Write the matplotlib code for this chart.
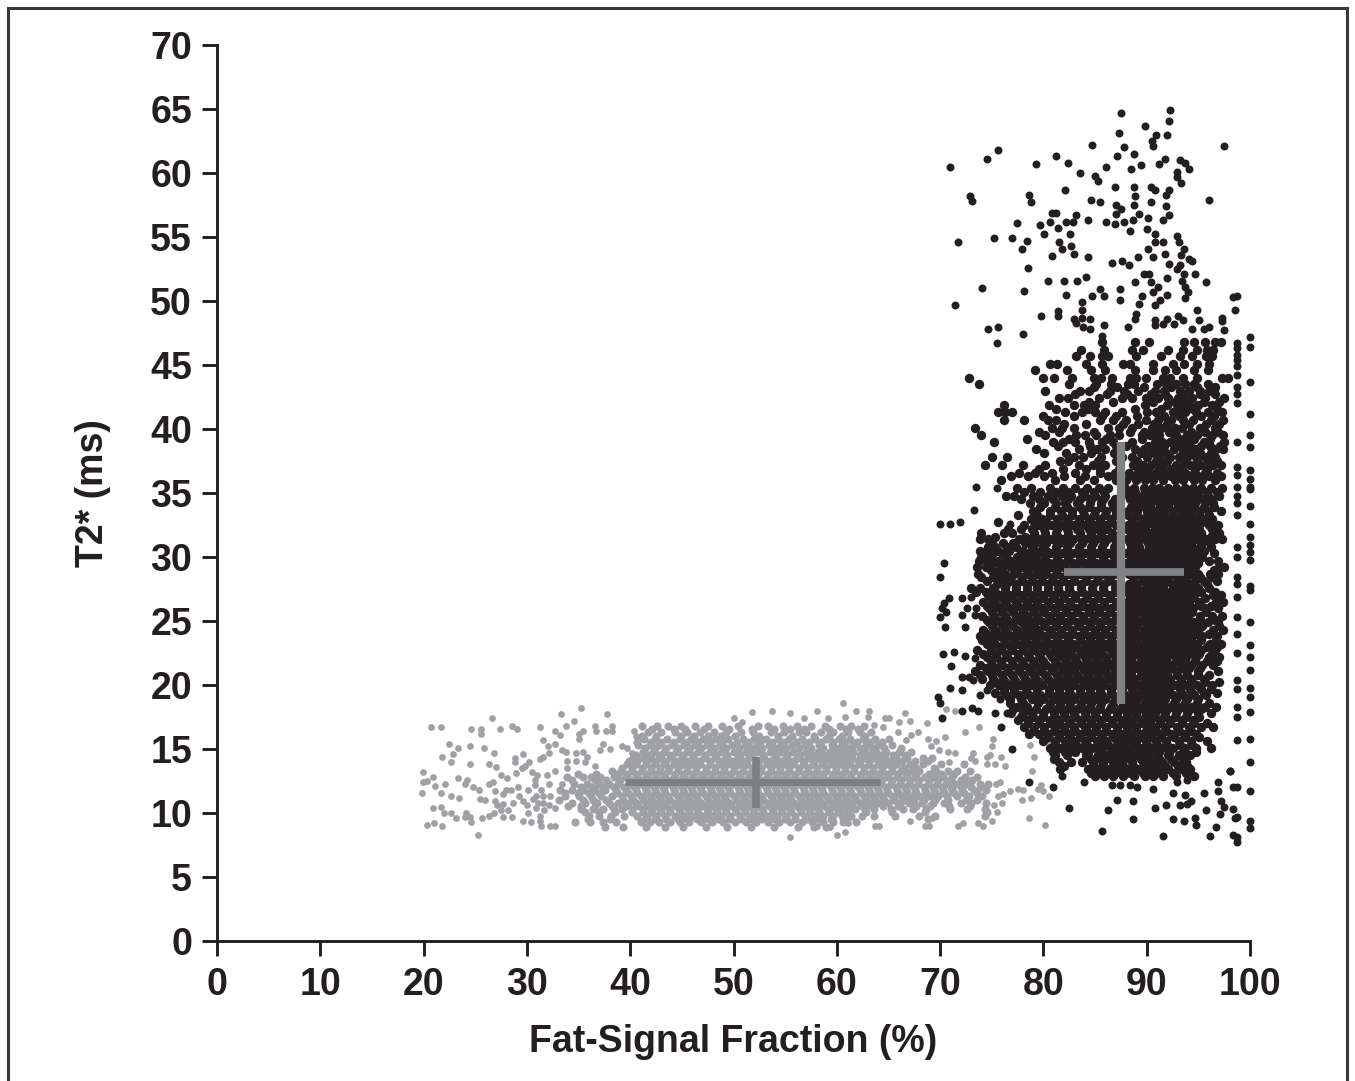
import matplotlib
matplotlib.use("Agg")
import matplotlib.pyplot as plt
from matplotlib.lines import Line2D

x_ticks = [0, 10, 20, 30, 40, 50, 60, 70, 80, 90, 100]
y_ticks = list(range(0, 71, 5))
x_title = "Fat-Signal Fraction (%)"
y_title = "T2* (ms)"

# cross markers (mean +/- sd)
gray_cross_x = [39.5, 64.2]
gray_cross_y = [10.4, 14.4]
gray_mean = (52.2, 12.4)
black_cross_x = [82.0, 93.6]
black_cross_y = [18.5, 39.0]
black_mean = (87.5, 28.8)

# individual black points read from the sparse outskirts
black_x = [87.5,92.3,92.2,89.8,87.3,92.0,90.9,90.5,90.6,97.5,84.7,87.8,75.6,74.5,71.0,81.2,79.3,82.4,83.5,86.1,87.1,88.8,89.4,88.5,91.2,91.8,93.2,93.7,94.1,92.9,92.9,93.3,85.0,85.3,86.9,88.8,90.4,90.8,92.2,91.9,82.1,72.9,73.1,78.6,78.8,84.6,85.5,88.9,88.8,90.4,96.0,91.9,87.0,87.5,87.0,89.3,90.1,92.2,91.6,80.8,81.2,83.2,82.2,82.9,84.3,86.1,86.9,87.8,88.7,80.6,77.4,79.7,81.4,80.1,82.6,88.4,90.0,90.8,92.9,71.7,75.2,77.0,78.4,77.9,81.5,82.7,81.8,83.0,80.8,84.3,90.8,91.6,93.1,90.1,91.8,93.6,93.3,90.6,89.2,94.1,94.4,87.6,88.3,86.6,92.2,93.2,92.9,78.5,89.7,90.2,93.6,94.7,84.1,83.3,82.0,80.4,92.0,88.9,90.4,93.4,95.7,74.1,78.1,85.5,85.9,87.4,84.7,82.2,91.1,90.6,93.7,94.0,92.0,98.7,98.4,71.4,87.4,89.5,89.3,91.3,90.8,93.7,83.7,83.7,81.4,81.4,98.5,94.9,79.8,89.0,88.9,83.0,83.7,84.5,83.2,83.8,84.5,85.9,88.2,90.8,90.8,92.0,91.6,92.6,93.0,93.5,95.1,97.3,97.3,96.0,95.5,94.4,97.5,74.6,75.6,75.5,78.0,85.7,
 100,100,100,100,100,100,100,100,100,100,100,100,100,100,100,100,100,100,100,100,100,100,100,100,100,100,100,100,100,100,
 98.7,98.7,98.7,98.7,98.7,98.7,98.7,98.7,98.7,98.7,98.7,98.7,98.7,98.7,98.7,98.7,98.7,98.7,98.7,98.7,98.7,98.7,98.7,98.7,98.7,98.7,98.7,98.7,98.7,98.7,98.7,98.7,98.4,98.7,98.1,
 85.7,91.6,96.1,96.7,82.5,86.3,87.1,88.7,88.7,90.8,91.9,92.5,93.6,94.7,94.8,95.7,97.1,98.5,98.4,97.2,97.5,93.2,93.7,94.3,93.9,95.5,96.9,96.9,98.4,98.1,92.5,90.6,92.9,93.9,83.9,86.6,87.4,88.4,89.1,81.8,78.6,80.9,77.0,75.9,70.2,
 70.0,71.0,71.9,70.4,70.0,73.3,75.5,73.5,76.8,70.4,70.9,70.2,70.0,70.6,70.5,72.4,72.1,72.1,73.4,73.5,73.0,72.6,70.3,71.3,72.4,73.4,71.1,69.8,70.0,71.0,72.1,73.2,72.1,72.8,72.1,73.1,73.7,75.3,76.5,73.9,75.8,76.4,74.5]
black_y = [64.7,64.9,64.1,63.7,63.1,63.0,63.0,62.5,62.1,62.1,62.2,62.0,61.8,61.1,60.5,61.3,60.7,60.8,60.0,60.5,61.3,61.5,60.6,60.3,60.7,61.1,61.0,60.8,60.3,60.1,59.7,59.2,59.8,59.4,58.9,58.9,58.9,58.7,58.7,58.3,58.7,58.2,57.8,58.3,57.7,57.9,57.7,58.2,57.5,57.7,57.9,57.4,57.5,57.2,56.8,56.8,56.5,56.7,56.3,56.9,56.9,56.7,56.2,56.2,56.3,56.2,56.0,56.2,56.3,56.2,56.1,55.9,55.7,55.2,55.2,55.5,55.6,55.2,55.1,54.6,54.9,54.9,54.7,54.1,54.6,54.3,54.1,53.7,53.5,53.4,54.6,54.6,54.6,54.1,53.7,54.1,53.6,53.4,53.4,53.3,53.1,53.1,52.8,53.0,52.9,52.8,52.5,52.6,52.1,52.1,52.1,52.1,51.9,51.6,51.6,51.6,51.8,51.5,51.5,51.6,51.5,51.0,50.8,50.9,50.4,50.9,50.4,50.5,51.1,50.7,51.1,50.7,50.5,50.4,50.3,49.7,50.1,50.4,49.8,50.1,49.7,50.2,49.9,49.3,49.2,48.8,49.3,49.3,48.8,49.0,48.6,48.6,48.7,48.6,48.3,48.0,47.8,48.1,48.0,48.5,48.1,48.6,48.2,48.2,48.8,48.5,48.5,48.7,48.4,48.0,47.8,47.8,47.7,47.8,48.0,46.7,47.4,47.3,
 35.3,34.0,32.6,31.6,30.9,30.4,29.8,27.7,27.4,24.9,23.1,22.2,21.2,19.8,19.1,17.9,15.8,14.0,11.7,9.4,8.8,47.2,46.4,43.7,41.2,39.5,38.6,36.8,36.1,35.5,
 46.7,46.3,45.8,45.4,44.9,44.2,43.3,42.7,42.0,39.0,37.0,36.4,35.5,34.8,34.2,33.3,30.8,30.0,28.4,27.9,26.9,25.3,24.0,22.5,20.4,19.7,18.3,17.5,15.7,12.0,9.7,7.7,8.3,8.1,13.3,
 8.6,8.2,8.2,8.9,10.4,10.2,11.0,10.9,9.5,10.4,10.6,9.5,9.4,9.6,9.1,10.2,9.9,9.6,10.3,10.9,10.5,10.6,11.4,10.9,10.7,11.6,12.4,11.7,12.0,13.3,11.6,11.9,12.4,12.6,12.4,12.2,12.2,12.2,12.0,12.9,12.4,12.0,15.0,16.7,17.4,
 32.6,32.6,32.7,29.5,28.4,33.7,35.4,35.5,32.6,26.4,26.8,26.0,25.3,25.7,24.5,24.5,26.8,25.5,25.5,26.0,26.9,26.0,22.4,22.6,22.3,22.1,21.5,19.1,18.6,19.8,19.6,20.4,20.6,20.6,18.0,18.2,18.0,17.8,17.8,19.2,18.9,19.3,19.6]
black_x = black_x[:len(black_y)]

# black points estimated level by level through the crowded part of the cloud
black_row_y = [46.8,46.2,45.7,45.1,44.6,44.0,43.5,43.0,42.4,41.9,41.3,40.7,40.1,39.5,39.0,38.4,37.8,37.2,36.6,35.4,34.8,34.2,33.6,33.0,32.5,31.9,31.4,30.8,30.3,29.7,29.2,28.7,28.1,27.6,27.0,26.5,26.0,25.4,24.9,24.3,23.8,23.2,22.7,22.2,21.6,21.1,20.5,20.0,19.4,18.9,18.3,17.8,17.3,16.7,16.2,15.6,15.1,14.5,14.0,13.4,12.9,
 43.3,42.7,42.1,41.6,41.0,40.4,39.8,39.2,38.7,38.1,37.5,36.9,36.3,36.0,35.1,34.5,33.9,33.3,32.7,32.2,31.6,31.1,30.5,30.0,29.5,29.0,28.4,27.9,27.3,26.8,26.2,25.7,25.1,24.6,24.0,23.5,23.0,22.4,21.9,21.3,20.8,20.2,19.7,19.2,18.6,18.1,17.5,17.0,16.4,15.9,15.3,14.8,14.2,13.7,13.1]
black_row_x = [
[85.7,88.9,90.2,93.6,94.6,95.6,96.6,97.2],
[83.6,85.9,88.6,89.6,92.1,93.5,94.9,95.8,96.4],
[83.2,84.5,85.7,86.3,89.0,91.4,93.2,94.4,95.7,96.3],
[80.6,81.3,84.1,85.7,87.7,88.4,90.6,92.5,93.6,94.9,96.0],
[79.2,82.3,84.6,86.0,88.9,90.6,91.8,92.8,94.6,95.9],
[72.8,80.0,81.0,82.8,84.9,85.6,86.6,88.4,89.0,89.9,91.6,92.3,93.5,94.9,97.3,97.9],
[73.8,82.5,85.1,86.5,88.2,88.8,91.0,91.9,92.8,93.7,94.6,95.9],
[80.2,83.5,84.4,86.4,87.8,89.2,90.8,91.7,93.2,94.1,95.2,96.0],
[81.5,82.4,85.4,87.6,88.6,89.9,91.1,92.1,93.0,94.4,95.6,97.5],
[76.2,80.5,83.0,83.9,85.0,89.8,92.0,93.4,94.2,95.0,96.3],
[75.6,76.3,77.0,82.1,83.7,85.0,86.0,87.6,90.0,90.9,92.5,93.7,94.8,95.9,97.3],
[76.2,78.1,80.4,81.2,85.5,86.7,88.0,89.9,91.1,92.4,93.5,94.5,96.2,97.4],
[73.4,80.8,81.8,83.0,86.3,87.3,88.6,90.5,91.4,92.7,93.4,95.2,96.6],
[74.0,80.2,83.2,84.0,85.1,86.4,87.3,89.5,90.3,91.2,92.8,93.9,94.9,96.3,97.4],
[75.2,80.9,81.9,83.1,84.4,85.7,86.7,88.6,90.8,91.5,92.3,93.0,94.0,95.5,97.5],
[79.3,83.4,85.2,86.0,88.9,89.7,90.4,91.2,92.6,93.6,94.7,96.7,97.4],
[75.0,76.5,83.0,83.8,85.6,87.6,88.6,90.0,91.2,92.3,93.1,93.9,94.8,95.6,96.6],
[74.3,76.0,78.0,80.2,83.4,84.8,86.0,88.7,89.6,90.4,91.6,92.8,94.2,95.2,96.4,97.2],
[77.6,79.2,80.8,83.1,85.5,86.9,88.3,89.7,90.9,91.8,92.9,93.7,94.6,95.6,96.8],
[77.4,78.8,80.6,81.9,83.1,84.2,85.4,86.3,87.9,88.8,89.7,90.5,91.2,92.1,92.8,93.7,94.5,95.3,96.2,97.3],
[76.4,77.2,79.0,80.4,81.8,82.7,84.0,85.0,86.0,88.3,89.2,90.1,91.0,91.8,92.6,93.3,94.2,95.0,95.9,97.0],
[78.7,80.1,81.2,82.1,83.3,84.5,85.6,86.6,88.7,89.6,90.4,91.3,92.2,93.0,93.8,94.7,95.6,96.4],
[79.0,80.6,81.7,82.8,83.8,85.0,86.1,87.0,88.2,89.1,90.0,90.8,91.7,92.5,93.4,94.2,95.1,95.9,97.2],
[78.8,79.9,81.3,82.3,83.4,84.4,85.5,86.5,88.6,89.5,90.4,91.3,92.1,93.0,93.8,94.6,95.5,96.3],
[78.1,79.5,80.7,81.8,82.9,83.9,85.0,86.0,87.0,88.2,89.0,89.9,90.7,91.6,92.4,93.3,94.1,94.9,96.0,96.9],
[74.0,76.2,77.0,79.1,80.2,81.2,82.4,83.5,84.6,85.6,86.6,88.5,89.4,90.3,91.1,92.0,92.8,93.6,94.4,95.3,96.4,97.0],
[73.9,74.6,77.6,78.6,79.6,80.8,81.9,82.9,84.0,85.1,86.2,88.1,88.9,89.8,90.6,91.5,92.3,93.2,94.0,94.8,95.7,96.6,97.3],
[74.6,75.3,76.5,77.3,78.9,80.0,81.2,82.3,83.4,84.6,85.7,86.8,88.5,89.3,90.2,91.0,91.9,92.7,93.6,94.4,95.2,96.2],
[74.3,75.1,76.0,77.8,78.6,79.5,80.6,81.8,82.9,84.0,85.2,86.3,88.0,88.9,89.7,90.6,91.4,92.3,93.1,94.0,94.8,96.5],
[73.8,74.6,75.6,76.9,77.7,78.9,80.0,81.2,82.4,83.5,84.7,85.8,86.9,88.4,89.3,90.1,91.0,91.8,92.7,93.5,94.4,96.0,96.9],
[73.6,74.4,76.1,76.9,77.9,78.9,79.7,80.7,81.9,83.0,84.2,85.3,86.4,88.8,89.7,90.5,91.4,92.2,93.1,93.9,94.7,97.0,97.5],
[73.7,75.3,76.3,77.2,78.4,79.4,80.3,81.3,82.4,83.5,84.6,85.8,86.8,88.3,89.2,90.0,90.9,91.7,92.6,93.4,94.2,95.0,96.1,96.9],
[74.5,75.8,76.8,77.8,78.9,79.9,80.8,81.9,83.0,84.1,85.2,86.3,88.7,89.6,90.4,91.3,92.1,93.0,93.8,94.7,95.5,96.8],
[73.0,73.9,75.1,76.3,77.3,78.4,79.4,80.4,81.4,82.5,83.6,84.7,85.8,86.9,88.2,89.1,89.9,90.8,91.6,92.5,93.3,94.2,95.0,96.0],
[74.6,75.7,76.8,77.8,78.9,79.9,80.9,82.0,83.1,84.2,85.3,86.4,88.6,89.5,90.3,91.2,92.0,92.9,93.7,94.6,96.4,97.2],
[74.2,75.2,76.3,77.3,78.4,79.4,80.4,81.5,82.6,83.7,84.8,85.9,87.0,88.1,89.0,89.8,90.7,91.5,92.4,93.2,94.1,95.1,96.7,97.4],
[74.7,75.8,76.8,77.9,78.9,79.9,81.0,82.1,83.2,84.3,85.4,86.5,88.5,89.4,90.2,91.1,91.9,92.8,93.6,94.5,95.6,96.9],
[74.1,75.2,76.3,77.3,78.4,79.4,80.5,81.6,82.7,83.8,84.9,86.0,87.0,88.0,88.9,89.8,90.6,91.5,92.3,93.2,94.0,95.2,96.3,97.3],
[74.7,75.8,76.8,77.9,78.9,80.0,81.1,82.2,83.3,84.4,85.5,86.5,88.4,89.3,90.2,91.0,91.9,92.7,93.6,94.6,95.9,96.9],
[74.2,75.3,76.3,77.4,78.4,79.5,80.6,81.7,82.8,83.9,85.0,86.0,87.0,87.9,88.8,89.7,90.5,91.4,92.2,93.1,94.0,95.0,96.4,97.4],
[73.9,74.8,75.8,76.9,77.9,79.0,80.1,81.2,82.3,83.4,84.5,85.5,86.5,88.3,89.2,90.1,90.9,91.8,92.6,93.5,94.4,95.4,96.8],
[74.5,75.3,76.4,77.4,78.5,79.6,80.7,81.8,82.9,84.0,85.0,86.0,87.0,87.9,88.7,89.6,90.4,91.3,92.1,93.0,93.9,94.9,96.1,97.2],
[73.6,74.9,75.9,77.0,78.0,79.1,80.2,81.3,82.4,83.5,84.5,85.5,86.5,88.2,89.1,90.0,90.8,91.7,92.5,93.4,94.3,95.3,96.6],
[74.5,75.4,76.5,77.5,78.6,79.7,80.8,81.9,83.0,84.0,85.0,86.0,87.0,87.8,88.6,89.5,90.3,91.2,92.0,92.9,93.8,94.8,96.0,97.0],
[73.9,75.0,76.0,77.1,78.1,79.2,80.3,81.4,82.5,83.5,84.5,85.5,86.5,88.1,89.0,89.9,90.7,91.6,92.4,93.3,94.3,95.4,96.4],
[73.4,74.6,75.5,76.6,77.6,78.7,79.8,80.9,82.0,83.0,84.0,85.0,86.0,87.0,87.8,88.5,89.4,90.2,91.1,91.9,92.8,93.8,95.0,96.9],
[74.1,75.1,76.1,77.2,78.2,79.3,80.4,81.5,82.5,83.5,84.5,85.5,86.5,88.0,88.9,89.8,90.6,91.5,92.3,93.3,94.3,95.5],
[74.8,75.7,76.7,77.7,78.8,79.9,81.0,82.0,83.0,84.0,85.0,86.0,87.0,88.4,89.3,90.1,91.0,91.9,92.8,93.8,94.9,96.3],
[75.3,76.2,77.2,78.3,79.4,80.5,81.5,82.5,83.5,84.5,85.5,86.5,87.6,88.8,89.6,90.5,91.4,92.3,93.3,94.4,95.5,96.8],
[76.8,77.8,78.9,80.0,81.0,82.0,83.0,84.0,85.0,86.0,87.0,88.2,89.1,90.0,90.9,91.8,92.8,93.9,95.0],
[77.4,78.4,80.5,81.5,82.5,83.5,84.5,85.5,86.5,87.6,88.6,89.5,90.4,91.3,92.3,93.3,94.4,95.6,96.7],
[76.9,78.0,78.9,80.0,81.0,82.0,83.0,84.0,85.0,86.1,87.1,88.1,89.0,89.9,90.8,91.8,92.8,93.9,95.0,96.2],
[77.5,78.5,79.6,80.6,81.5,82.5,83.5,84.6,85.6,86.6,87.6,88.6,89.5,90.3,91.3,92.3,93.4,94.5],
[78.1,79.1,80.1,81.1,82.0,83.0,84.0,85.1,86.1,87.1,88.1,89.0,90.0,90.8,91.8,92.9,94.1,95.3,96.4],
[78.6,79.6,80.5,81.5,82.6,83.6,84.5,85.6,86.6,87.6,88.6,89.5,90.3,91.3,92.4,93.6,94.8],
[80.0,81.1,82.1,83.0,84.0,85.2,86.1,87.1,88.0,89.0,89.9,90.9,91.9,93.1,94.3,95.8],
[80.6,81.6,82.7,83.7,84.7,85.7,86.7,87.7,88.5,89.5,90.4,91.4,92.5,93.7,94.8,96.2],
[81.1,82.3,84.1,85.3,86.2,87.2,88.1,89.1,90.0,91.0,92.1,93.1,94.2],
[81.5,82.7,83.7,84.8,85.8,86.7,87.6,88.6,89.6,90.4,91.5,92.6,93.8],
[81.6,84.3,85.3,86.3,87.2,88.2,89.2,90.1,91.0,92.1,93.3,94.2],
[85.0,85.9,86.7,87.7,88.8,89.8,90.6,91.6,92.8,94.6],
[84.9,87.1,89.7,92.4,94.9,96.6],
[83.1,86.2,88.1,90.4,91.8,93.6,95.2,96.6],
[84.4,86.7,90.6,92.7,93.8,95.5,97.0],
[81.2,84.3,88.9,91.4,92.9,94.5,96.8],
[80.0,83.0,85.7,87.0,89.1,91.7,93.1,95.3,96.5],
[82.0,84.1,87.7,89.2,90.7,92.0,94.1,95.7,97.0],
[79.6,81.5,84.9,88.4,89.7,91.0,92.2,94.3,95.6,96.9],
[78.4,82.5,86.1,89.5,91.0,92.6,93.5,94.6,96.1],
[81.4,84.5,87.0,88.0,90.1,91.7,93.2,94.2,95.3,96.1,97.1],
[80.1,82.2,84.6,86.8,89.4,90.7,91.9,93.5,94.4,95.2,96.2],
[81.6,82.4,85.3,87.0,89.1,90.9,92.0,93.6,94.9,95.9,96.8],
[79.6,81.9,84.1,85.5,87.3,89.2,90.1,91.2,92.4,93.4,94.7,95.8],
[76.9,78.5,80.1,82.0,84.0,86.3,88.7,89.4,90.4,91.4,92.4,93.3,94.2,95.0,96.0,97.2],
[75.9,81.1,83.5,84.9,87.0,88.0,89.0,89.8,90.6,91.6,92.7,93.5,94.6,95.4,96.6],
[78.1,79.7,81.2,82.4,83.7,84.9,85.9,88.0,88.9,89.8,90.7,91.5,92.4,93.1,94.1,95.0,95.8,96.8],
[77.8,79.6,80.9,82.4,83.5,84.6,85.8,86.9,88.4,89.4,90.2,91.1,92.0,92.9,93.6,94.5,95.4,96.2],
[79.7,81.1,82.3,83.5,84.4,85.6,86.7,88.5,89.3,90.3,91.3,92.1,93.0,93.8,94.6,95.5,96.5],
[77.5,79.4,80.6,81.8,82.8,83.9,84.9,86.0,87.0,88.2,89.1,90.0,90.8,91.7,92.5,93.4,94.2,95.1,96.0],
[75.6,79.1,80.3,81.4,82.4,83.4,84.5,85.5,86.5,88.6,89.4,90.3,91.1,92.0,92.8,93.7,94.5,95.4],
[76.6,77.8,78.9,80.1,81.3,82.3,83.3,84.4,85.3,86.2,88.1,89.0,89.7,90.9,91.7,92.6,93.4,94.2,95.1,96.3],
[75.3,78.2,79.2,80.3,81.4,82.4,83.4,84.5,85.6,86.6,88.5,89.3,90.2,91.0,91.9,92.7,93.5,94.4,95.3,96.2],
[75.0,76.1,77.1,78.2,79.2,80.3,81.5,82.6,83.7,84.8,85.9,87.0,88.4,89.2,90.1,90.9,91.8,92.6,93.5,94.3,95.4,96.1],
[73.9,75.6,76.7,78.0,79.2,80.3,81.2,82.4,83.5,84.6,85.7,86.8,88.5,89.3,90.1,91.0,91.8,92.7,93.5,94.4,95.5],
[74.0,74.9,76.4,77.4,78.3,79.2,80.2,81.3,82.4,83.5,84.6,85.8,86.8,88.5,89.4,90.2,91.0,91.9,92.7,93.6,94.5,95.4],
[75.1,76.3,77.3,78.3,79.4,80.5,81.7,82.9,84.0,85.1,86.2,87.0,88.0,88.9,89.8,90.7,91.5,92.4,93.3,94.1,95.0],
[74.9,75.7,77.4,78.4,79.3,80.2,81.2,82.3,83.4,84.6,85.7,86.8,88.3,89.2,90.0,90.9,91.8,92.6,93.4,94.3,96.5],
[74.0,75.1,76.0,76.9,77.9,78.9,79.9,80.9,81.9,83.0,84.1,85.3,86.4,88.7,89.5,90.4,91.2,92.1,92.9,93.8,95.2,96.3],
[75.5,76.4,77.3,78.4,79.4,80.4,81.4,82.5,83.6,84.8,85.9,86.9,88.3,89.1,90.0,90.8,91.7,92.5,93.4,94.4,95.8],
[73.5,74.4,75.3,76.3,77.3,78.4,79.4,80.4,81.5,82.6,83.7,84.8,85.9,87.0,88.0,88.9,89.8,90.6,91.5,92.3,93.2,94.1,95.3,96.6],
[74.9,76.0,77.0,78.0,79.0,80.0,81.0,82.0,83.1,84.2,85.3,86.4,88.4,89.3,90.1,91.0,91.8,92.7,93.5,94.4,95.6],
[74.5,75.5,76.5,77.5,78.5,79.5,80.5,81.6,82.7,83.8,84.9,85.9,87.0,88.0,88.9,89.7,90.6,91.4,92.3,93.1,94.0,95.3,96.2],
[75.0,76.0,77.1,78.0,79.1,80.1,81.1,82.2,83.3,84.4,85.4,86.4,88.3,89.2,90.0,90.9,91.7,92.6,93.4,94.4,95.7],
[74.5,75.5,76.5,77.6,78.6,79.6,80.7,81.7,82.8,83.9,85.0,86.0,87.0,87.9,88.8,89.6,90.5,91.3,92.2,93.0,93.9,95.2,96.6],
[75.0,76.1,77.1,78.2,79.1,80.2,81.2,82.3,83.4,84.5,85.5,86.5,88.3,89.1,90.0,90.8,91.7,92.5,93.4,94.4,95.4,97.0],
[74.5,75.6,76.6,77.7,78.7,79.7,80.8,81.8,82.9,83.9,85.0,86.0,87.0,87.8,88.7,89.5,90.4,91.2,92.1,92.9,93.8,94.8,96.0],
[74.1,75.1,76.2,77.2,78.2,79.3,80.3,81.3,82.4,83.5,84.5,85.5,86.5,88.2,89.0,89.9,90.7,91.6,92.4,93.3,94.3,95.3,96.7],
[74.9,75.8,76.9,78.0,78.9,80.0,81.0,82.1,83.2,84.3,85.3,86.3,87.0,87.7,88.6,89.4,90.3,91.1,92.0,92.8,93.7,94.6,95.8,96.8],
[74.2,75.4,76.4,77.5,78.5,79.6,80.6,81.6,82.7,83.7,84.7,85.7,86.7,88.1,89.0,89.8,90.7,91.5,92.4,93.2,94.1,95.1,96.3],
[74.9,75.9,77.0,77.9,79.0,80.0,81.1,82.2,83.2,84.2,85.2,86.2,87.0,87.7,88.5,89.4,90.2,91.1,91.9,92.8,93.7,94.7,95.8,96.8],
[74.4,75.4,76.5,77.5,78.6,79.6,80.7,81.8,82.8,83.8,84.8,85.8,86.8,88.1,88.9,89.7,90.6,91.5,92.3,93.2,94.1,95.2],
[73.9,75.0,76.0,77.0,78.0,79.1,80.2,81.3,82.3,83.3,84.3,85.3,86.3,87.1,87.9,88.5,89.4,90.2,91.1,92.0,92.9,93.9,95.0,96.0],
[75.3,76.3,77.3,78.5,79.6,80.7,81.8,82.8,83.8,84.8,85.8,86.8,88.1,88.8,89.7,90.6,91.4,92.3,93.3,94.4,95.6,97.0],
[76.2,77.2,78.3,79.4,80.5,81.5,82.5,83.5,84.5,85.5,86.5,87.6,88.6,89.5,90.4,91.3,92.2,93.2,94.2,95.3,96.2],
[76.4,77.6,78.6,79.7,80.7,81.7,82.7,83.7,84.7,85.7,86.7,87.9,88.8,89.7,90.6,91.5,92.5,93.5,94.6,95.7],
[76.8,78.0,79.5,80.6,81.6,82.6,83.6,84.6,85.6,86.7,87.8,88.9,89.8,90.7,91.6,92.6,93.7,94.9,96.0],
[77.1,78.3,79.3,80.3,81.3,82.3,83.3,84.3,85.4,86.4,87.4,88.3,89.3,90.1,91.1,92.0,93.0,94.2,95.3],
[77.8,79.0,80.0,81.1,82.1,83.1,84.1,85.1,86.1,87.1,88.1,89.0,89.8,90.7,91.7,92.7,93.8,95.1],
[78.5,79.6,80.6,81.5,82.6,83.6,84.6,85.6,86.6,87.6,88.5,89.4,90.3,91.3,92.3,93.4,94.6,95.8],
[79.0,80.1,81.0,82.1,83.1,84.2,85.1,86.1,87.1,88.1,89.0,89.9,90.9,91.9,93.1,94.3],
[80.4,81.5,82.5,83.5,84.6,85.7,86.7,87.6,88.5,89.4,90.4,91.4,92.6,93.7,95.1],
[81.1,82.2,83.2,84.2,85.4,86.3,87.3,88.2,89.0,90.0,91.0,92.0,93.2,94.4],
[80.9,82.1,83.1,84.3,85.5,86.5,87.4,88.3,89.3,90.2,91.2,92.2,93.5,94.8],
[81.0,84.6,85.6,86.5,87.4,88.4,89.4,90.2,91.2,92.4,93.5],
[82.0,84.9,85.8,86.8,87.7,88.7,89.9,90.8,91.8,93.0,93.9],
[84.6,85.6,86.5,87.5,88.4,89.6,90.5,91.3,92.5,93.8],
]

# individual gray points read from the sparse outskirts
gray_x = [20.7,21.7,24.6,25.55,25.55,26.6,27.4,28.6,29.0,31.3,22.5,23.3,24.5,25.8,26.8,22.8,21.8,22.7,24.5,26.3,27.0,28.8,28.8,29.6,30.2,29.5,29.8,28.9,19.9,20.9,19.9,20.3,22.1,21.1,19.8,21.7,23.3,24.2,24.0,24.8,25.4,26.3,26.7,27.5,28.1,22.7,23.4,25.5,25.9,26.9,27.7,28.0,28.5,29.1,20.9,21.7,22.0,22.7,23.1,24.1,24.0,24.5,24.55,25.7,26.3,26.8,20.3,21.0,21.8,25.3,26.9,27.1,27.7,27.5,28.2,28.7,27.7,28.6,29.2,29.6,30.0,30.1,30.1,29.6,30.4,
 30.5,31.0,31.9,32.7,30.8,30.8,32.1,33.4,30.9,31.4,31.6,32.2,30.6,31.1,31.6,32.1,30.9,31.7,32.7,31.3,31.3,31.4,32.2,32.7,31.6,32.0,32.1,31.6,31.3,32.7,32.7,33.2,33.3,34.6,33.8,35.2,35.0,35.0,35.4,33.4,33.8,33.9,33.9,34.8,35.4,34.8,35.8,35.6,36.6,36.6,36.7,37.8,38.2,37.7,38.2,37.4,37.1,38.0,39.2,39.7,40.2,40.6,40.4,
 51.8,53.7,55.5,58.1,60.6,61.9,63.1,60.8,63.0,56.8,59.1,50.0,50.8,64.7,65.1,66.6,67.1,66.0,68.7,63.6,64.5,65.9,66.7,67.2,67.9,68.8,70.5,72.4,73.8,70.6,71.4,69.1,69.6,69.9,70.8,71.4,70.9,73.2,73.0,73.4,75.1,75.0,74.8,74.5,75.9,74.5,75.3,76.3,79.1,78.7,78.9,78.6,80.2,80.6,75.4,75.8,75.6,76.1,76.8,77.5,78.0,77.9,78.8,79.5,79.8,80.0,80.5,75.2,76.0,75.5,75.0,73.7,74.2,72.2,71.7,68.9,69.2,68.5,67.1,63.7,64.1,60.8,60.0,55.5,61.1,58.1,59.3]
gray_y = [16.7,16.7,16.6,16.6,16.2,17.4,16.6,16.8,16.6,16.7,15.4,15.1,15.2,15.1,14.7,14.6,14.4,14.0,13.8,13.8,13.6,14.3,14.0,14.6,14.0,13.5,13.7,13.1,13.2,12.8,12.4,12.5,12.3,12.1,11.6,11.6,12.7,12.6,12.3,12.0,11.8,12.3,12.4,13.0,12.7,11.3,11.2,11.1,11.0,11.7,11.5,11.8,11.8,12.0,10.4,10.5,10.0,10.0,9.6,10.0,9.7,9.7,9.3,9.6,9.8,10.0,9.1,9.2,9.0,8.3,10.9,10.6,10.7,10.2,10.2,10.8,9.7,9.7,11.3,10.9,10.6,11.8,10.0,9.4,9.3,
 13.2,13.0,13.0,13.3,12.6,12.2,12.3,12.3,11.3,11.8,11.3,11.3,11.1,10.8,10.8,10.6,10.4,10.2,10.4,9.8,9.4,9.0,9.0,9.0,15.7,15.2,14.7,14.4,14.2,15.4,16.4,16.1,17.7,17.2,16.8,18.2,16.2,15.8,16.4,14.9,14.8,14.1,13.5,14.7,14.8,14.1,14.4,14.0,13.7,16.8,16.4,17.7,16.8,16.4,16.4,15.4,14.9,15.0,15.2,15.1,14.7,16.0,16.4,
 17.9,18.0,17.8,18.0,18.6,18.0,18.0,17.5,17.5,17.4,17.4,17.4,17.1,17.4,17.4,17.8,17.2,17.1,17.0,16.9,16.7,16.3,15.7,16.1,16.3,15.8,15.9,16.3,16.7,18.1,18.0,15.2,15.6,14.9,14.8,14.7,14.0,14.7,14.3,14.1,15.8,15.2,14.5,14.4,14.4,13.8,13.8,13.7,14.4,15.3,13.3,9.6,9.1,15.6,12.3,12.4,11.3,11.5,11.7,11.9,11.8,11.0,11.2,11.9,12.2,11.7,11.3,10.6,10.8,10.1,9.4,9.2,9.0,9.2,9.0,9.0,9.6,9.0,9.4,9.0,9.0,8.5,8.3,8.1,9.2,9.0,8.9]

# gray points estimated level by level through the crowded part of the cloud
gray_row_y = [16.8,16.3,15.8,15.3,14.8,14.3,13.8,13.3,12.8,12.3,11.8,11.3,10.8,10.3,9.8,9.3,8.9,
 16.6,16.05,15.55,15.05,14.55,14.05,13.55,13.05,12.55,12.05,11.55,11.05,10.55,10.05,9.55]
gray_row_x = [
[41.1,42.6,43.7,44.9,46.3,47.5,48.9,50.4,52.4,53.3,54.8,56.1,57.5,58.9,60.3,61.4,62.6],
[41.7,43.0,44.3,45.5,46.8,48.1,49.3,50.7,51.9,53.6,54.9,56.3,57.0,58.5,59.6,61.1,62.2,63.3],
[41.3,42.4,43.6,44.8,45.9,47.0,48.2,49.5,50.9,52.0,53.1,54.3,55.4,56.6,57.9,59.0,60.2,61.3,62.5,63.7,65.1],
[40.8,41.9,42.8,44.0,45.2,46.3,47.4,48.7,49.9,51.1,52.3,53.4,54.6,55.7,56.9,58.3,59.5,60.5,61.6,62.8,64.0,65.3],
[41.2,42.2,43.3,44.4,45.5,46.6,47.7,48.8,50.0,51.2,52.3,53.5,54.6,55.8,57.0,58.2,59.3,60.5,61.6,62.7,63.8,64.8,66.0,67.2],
[40.3,41.2,42.0,43.0,44.0,45.1,46.1,47.1,48.2,49.3,50.4,51.5,53.0,54.0,55.1,56.1,57.2,58.3,59.4,60.5,61.5,62.6,63.6,64.7,65.7,66.8,68.3,69.2],
[39.7,40.6,41.5,42.4,43.3,44.2,45.0,45.9,46.8,47.7,48.6,49.5,50.4,51.3,53.2,54.1,55.0,55.9,56.8,57.7,58.6,59.5,60.4,61.3,62.2,63.1,64.0,64.9,65.8,67.1,68.3,70.1,72.3],
[38.2,39.1,40.2,41.1,42.0,42.9,43.7,44.6,45.5,46.4,47.3,48.2,49.1,50.0,50.9,51.8,52.7,53.6,54.5,55.4,56.3,57.2,58.1,59.0,59.9,60.8,61.7,62.6,63.5,64.4,65.3,66.2,67.2,68.0,69.6,70.8,71.6,72.9],
[33.9,35.4,36.2,37.1,38.4,39.6,40.6,41.5,42.4,43.3,44.2,45.1,46.0,46.9,47.8,48.7,49.6,50.5,51.4,52.3,53.2,54.1,55.0,55.9,56.8,57.7,58.6,59.5,60.4,61.3,62.2,63.1,64.0,64.9,65.8,66.7,67.6,68.5,69.4,70.3,71.2,72.4,73.6],
[34.6,35.8,37.0,37.9,38.8,39.9,40.9,41.8,42.7,43.6,44.5,45.4,46.3,47.2,48.1,49.0,49.9,50.8,51.7,52.6,53.5,54.4,55.3,56.2,57.1,58.0,58.9,59.8,60.7,61.6,62.5,63.4,64.3,65.2,66.1,67.0,67.9,68.8,69.7,70.6,71.5,72.6,73.9,74.6],
[33.2,34.4,35.5,36.6,37.6,38.6,39.6,40.6,41.5,42.4,43.3,44.2,45.1,46.0,46.9,47.8,48.7,49.6,50.5,51.4,52.3,53.2,54.1,55.0,55.9,56.8,57.7,58.6,59.5,60.4,61.3,62.2,63.1,64.0,64.9,65.8,66.7,67.6,68.5,69.4,70.3,71.2,72.1,73.3,74.4],
[33.7,35.0,36.2,37.2,38.2,39.2,40.1,41.0,41.9,42.8,43.7,44.6,45.5,46.4,47.3,48.2,49.1,50.0,50.9,51.8,52.7,53.6,54.5,55.4,56.3,57.2,58.1,59.0,59.9,60.8,61.7,62.6,63.5,64.4,65.3,66.2,67.1,68.0,68.9,69.8,70.7,71.6,72.8,74.1],
[34.4,35.6,36.8,37.9,38.8,39.8,40.6,41.5,42.4,43.3,44.2,45.1,46.0,46.9,47.8,48.7,49.6,50.5,51.4,52.3,53.2,54.1,55.0,55.9,56.8,57.7,58.6,59.5,60.4,61.3,62.2,63.1,64.0,65.0,66.1,67.0,68.2,69.3,70.4,72.0,73.0,74.4],
[35.2,36.4,37.4,38.4,39.2,40.2,41.2,42.0,42.9,43.8,44.7,45.6,46.5,47.4,48.3,49.2,50.1,51.0,51.9,52.8,53.7,54.6,55.5,56.4,57.3,58.2,59.1,60.0,60.9,61.8,62.7,63.6,65.2,66.4,67.4,68.6,71.0,72.6,74.3],
[36.0,37.0,38.1,39.4,40.7,41.6,42.5,43.4,44.3,45.2,46.1,47.0,47.9,48.8,49.7,50.6,51.5,52.4,53.3,54.2,55.1,56.0,56.9,57.8,58.7,59.6,60.5,61.4,62.4,63.6,65.6,68.0,69.5,74.3],
[34.7,36.1,37.4,38.6,41.0,41.9,42.8,43.9,44.8,45.7,46.9,47.9,49.0,50.1,51.2,52.2,53.3,54.4,55.5,56.6,57.6,58.7,59.6,60.6,61.9],
[37.6,39.3,41.5,43.4,45.1,47.3,49.4,51.7,53.9,56.2,57.8,59.0],
[42.1,44.2,45.3,47.1,49.6,51.8,53.9,55.5,56.8,59.2,60.9,62.1],
[41.1,42.5,44.9,46.2,47.5,48.8,50.1,52.5,54.3,55.7,57.8,59.2,60.5,62.7],
[40.7,42.0,43.0,44.2,45.5,46.6,47.7,48.9,50.3,51.5,52.6,53.7,54.9,56.1,57.3,58.5,59.6,60.8,62.0,63.2,64.4],
[41.4,42.4,43.5,44.6,45.8,46.9,48.1,49.3,50.5,51.7,52.8,54.0,55.1,56.3,57.5,58.7,59.9,61.0,62.2,63.4,64.6,66.2],
[40.6,41.7,42.8,43.9,45.0,46.1,47.2,48.3,49.4,50.6,51.8,52.9,54.1,55.2,56.4,57.6,58.8,59.9,61.1,62.2,63.3,64.3,65.4,66.6],
[39.9,40.7,41.6,42.5,43.5,44.6,45.6,46.6,47.7,48.8,49.9,51.0,52.5,53.5,54.6,55.6,56.7,57.8,58.9,60.0,61.0,62.1,63.1,64.2,65.2,66.3,67.6,68.8],
[39.2,40.2,41.1,42.0,42.9,43.8,44.6,45.5,46.4,47.3,48.2,49.1,50.0,50.9,51.8,52.7,53.6,54.5,55.4,56.3,57.2,58.1,59.0,59.9,60.8,61.7,62.6,63.5,64.4,65.3,66.5,67.7,69.4],
[34.9,36.7,38.8,39.7,40.7,41.6,42.5,43.4,44.3,45.2,46.1,47.0,47.9,48.8,49.7,50.6,51.5,52.4,53.3,54.2,55.1,56.0,56.9,57.8,58.7,59.6,60.5,61.4,62.3,63.2,64.1,65.0,65.9,66.8,67.7,68.9,70.1,71.3],
[34.4,36.6,37.7,39.0,40.1,41.0,41.9,42.8,43.7,44.6,45.5,46.4,47.3,48.2,49.1,50.0,50.9,51.8,52.7,53.6,54.5,55.4,56.3,57.2,58.1,59.0,59.9,60.8,61.7,62.6,63.5,64.4,65.3,66.2,67.1,68.0,68.9,69.8,71.0,72.0,73.1],
[35.2,36.3,37.4,38.4,39.4,40.4,41.4,42.3,43.2,44.1,45.0,45.9,46.8,47.7,48.6,49.5,50.4,51.3,52.2,53.1,54.0,54.9,55.8,56.7,57.6,58.5,59.4,60.3,61.2,62.1,63.0,63.9,64.8,65.7,66.6,67.5,68.4,69.3,70.2,71.1,72.0,73.0,74.0],
[33.7,34.9,36.0,37.0,38.7,39.8,40.7,41.6,42.5,43.4,44.3,45.2,46.1,47.0,47.9,48.8,49.7,50.6,51.5,52.4,53.3,54.2,55.1,56.0,56.9,57.8,58.7,59.6,60.5,61.4,62.3,63.2,64.1,65.0,65.9,66.8,67.7,68.6,69.5,70.4,71.3,72.3,73.6],
[33.1,35.4,36.4,37.7,39.3,40.3,41.2,42.1,43.0,43.9,44.8,45.7,46.6,47.5,48.4,49.3,50.2,51.1,52.0,52.9,53.8,54.7,55.6,56.5,57.4,58.3,59.2,60.1,61.0,61.9,62.8,63.7,64.6,65.5,66.5,67.5,68.4,69.5,70.8,72.5,73.6],
[34.0,35.2,36.6,38.2,39.6,40.8,41.7,42.6,43.5,44.4,45.3,46.2,47.1,48.0,48.9,49.8,50.7,51.6,52.5,53.4,54.3,55.2,56.1,57.0,57.9,58.8,59.7,60.6,61.5,62.4,63.4,64.5,65.9,67.7,69.0,70.9,72.9],
[35.6,37.0,38.5,40.2,41.2,42.1,43.0,43.9,44.8,45.7,46.6,47.5,48.4,49.3,50.2,51.1,52.0,52.9,53.8,54.7,55.6,56.5,57.4,58.3,59.2,60.2,61.1,62.8,65.3,68.5,74.5],
[35.9,38.0,41.4,42.4,43.5,44.6,45.5,46.5,47.5,48.5,49.6,50.7,51.8,52.8,53.9,55.0,56.0,57.1,58.2,59.4,61.0,68.8],
]

gray_est_x = [v for row in gray_row_x for v in row]
gray_est_y = [y for y, row in zip(gray_row_y, gray_row_x) for _ in row]
black_est_x = [v for row in black_row_x for v in row]
black_est_y = [y for y, row in zip(black_row_y, black_row_x) for _ in row]

INK = "#231f20"
plt.rcParams["font.family"] = ["Liberation Sans", "DejaVu Sans"]
plt.rcParams["font.weight"] = "bold"

fig = plt.figure(figsize=(13.55, 10.81), dpi=100)
W, H = 1355, 1081
ax = fig.add_axes([217 / W, 1 - 941 / H, (1250 - 217) / W, (941 - 45) / H])
ax.set_xlim(0, 100)
ax.set_ylim(0, 70)
ax.patch.set_alpha(0)

ax.scatter(gray_x, gray_y, s=24, c="#a0a1a4", linewidths=0, zorder=2, clip_on=False)
ax.scatter(gray_est_x, gray_est_y, s=34, c="#a0a1a4", linewidths=0, zorder=2, clip_on=False)
ax.scatter(black_x, black_y, s=33, c=INK, linewidths=0, zorder=3, clip_on=False)
ax.scatter(black_est_x, black_est_y, s=46, c=INK, linewidths=0, zorder=3, clip_on=False)

ax.plot(gray_cross_x, [gray_mean[1]] * 2, color="#7e7f82", lw=5, solid_capstyle="butt", zorder=4)
ax.plot([gray_mean[0]] * 2, gray_cross_y, color="#7e7f82", lw=5.5, solid_capstyle="butt", zorder=4)
ax.plot(black_cross_x, [black_mean[1]] * 2, color="#808285", lw=5.5, solid_capstyle="butt", zorder=4)
ax.plot([black_mean[0]] * 2, black_cross_y, color="#808285", lw=6, solid_capstyle="butt", zorder=4)

for side in ("top", "right"):
    ax.spines[side].set_visible(False)
for side in ("left", "bottom"):
    ax.spines[side].set_linewidth(2.1)
    ax.spines[side].set_color(INK)
ax.set_xticks(x_ticks)
ax.set_yticks(y_ticks)
ax.tick_params(axis="both", length=11, width=2.1, color=INK, labelcolor=INK, labelsize=27)
ax.tick_params(axis="x", pad=8)
ax.tick_params(axis="y", pad=7)
ax.set_xlabel(x_title, fontsize=27, fontweight="bold", color=INK)
ax.set_ylabel(y_title, fontsize=27, fontweight="bold", color=INK)
ax.xaxis.set_label_coords(0.5, -0.0925)
ax.yaxis.set_label_coords(-0.1026, 0.5)

frame = [([8, 8], [1081, 8]), ([8, 1347], [8, 8]), ([1347, 1347], [8, 1081])]
for fx, fy in frame:
    fig.add_artist(Line2D([v / W for v in fx], [1 - v / H for v in fy], color="#3a3738", lw=2.2))

fig.savefig("out.png", dpi=100, facecolor="white")
